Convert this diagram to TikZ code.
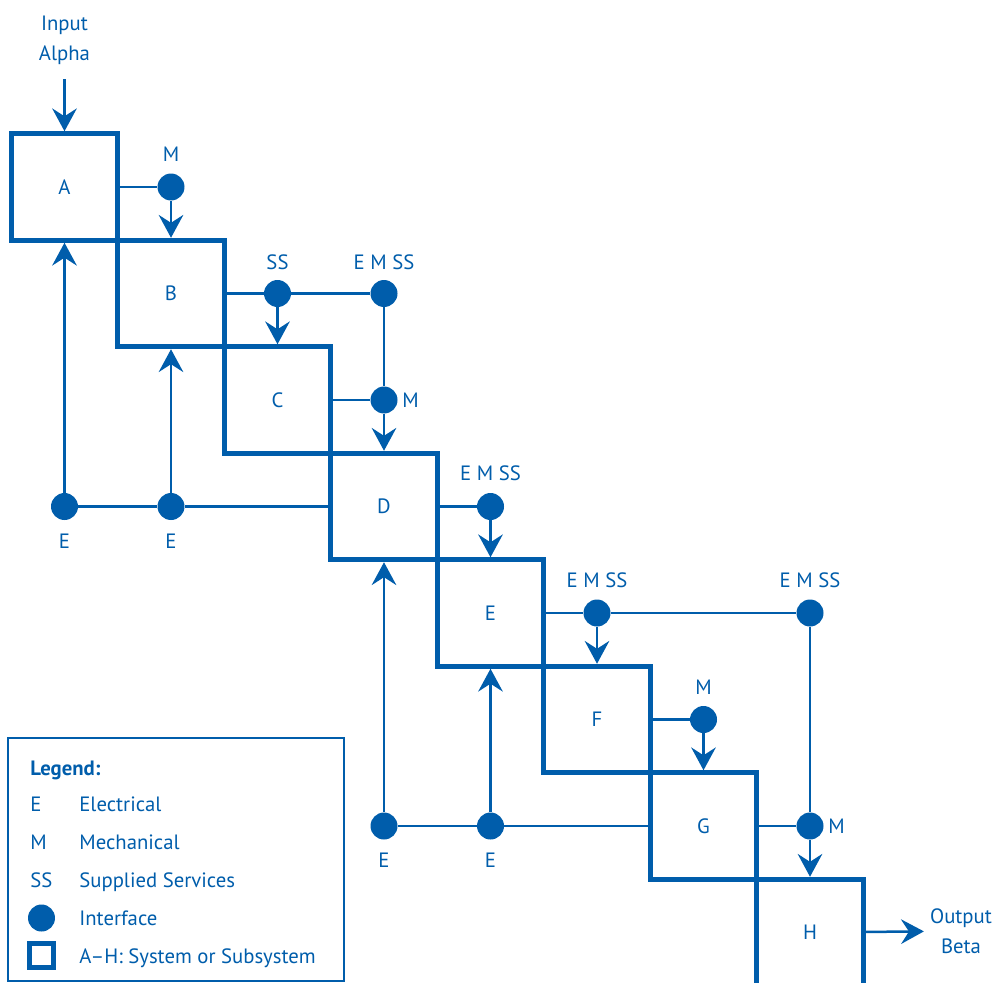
\documentclass[tikz,border=0pt]{standalone}
\usepackage{fontspec}
\setmainfont{PT Sans}
\usetikzlibrary{arrows.meta, positioning}
\definecolor{sysblue}{HTML}{005DAB}
\tikzset{
  sys/.style={draw=sysblue, line width=0.1cm, minimum size=2.13cm, inner sep=0pt},
  port/.style={circle, fill=sysblue, minimum size=0.54cm, inner sep=0pt},
  link/.style={draw=sysblue, line width=0.05cm},
  arr/.style={link, -{Stealth[length=13pt, width=14pt, inset=4.5pt]}},
  legtext/.style={anchor=base west, inner sep=0pt},
}

\begin{document}
\begin{tikzpicture}[x=0.02cm, y=-0.02cm, color=sysblue, font=\fontsize{11.8}{17}\selectfont]
  \useasboundingbox (0,0) rectangle (1000,983);
  \clip (0,0) rectangle (1000,983);
  % systems A to H down the diagonal
  \foreach \s [count=\k from 0] in {A,B,C,D,E,F,G,H}
    \node[sys] (\s) at ({64.5+106.5*\k},{187+106.5*\k}) {\s};
  % interfaces
  \node[port, label={[label distance=3pt]above:M}] (mA) at (B |- A) {};
  \node[port, label={[label distance=2pt]above:SS}] (ssB) at (C |- B) {};
  \node[port, label={[label distance=2pt]above:E M SS}] (emsB) at (D |- B) {};
  \node[port, label={[label distance=-1pt]right:M}] (mC) at (D |- C) {};
  \node[port, label={[label distance=3pt]above:E M SS}] (emsD) at (E |- D) {};
  \node[port, label={[label distance=3pt]above:E M SS}] (emsE) at (F |- E) {};
  \node[port, label={[label distance=3pt]above:E M SS}] (emsEH) at (H |- E) {};
  \node[port, label={[label distance=3pt]above:M}] (mF) at (G |- F) {};
  \node[port, label={[label distance=-1pt]right:M}] (mG) at (H |- G) {};
  \node[port, label={[label distance=4pt]below:E}] (eDA) at (A |- D) {};
  \node[port, label={[label distance=4pt]below:E}] (eDB) at (B |- D) {};
  \node[port, label={[label distance=4pt]below:E}] (eGD) at (D |- G) {};
  \node[port, label={[label distance=4pt]below:E}] (eGE) at (E |- G) {};
  % forward links
  \draw[link] (A) -- (mA);
  \draw[arr] (mA) -- (mA |- B.north);
  \draw[link] (B) -- (ssB) -- (emsB);
  \draw[arr] (ssB) -- (ssB |- C.north);
  \draw[link] (emsB) -- (mC);
  \draw[link] (C) -- (mC);
  \draw[arr] (mC) -- (mC |- D.north);
  \draw[link] (D) -- (emsD);
  \draw[arr] (emsD) -- (emsD |- E.north);
  \draw[link] (E) -- (emsE) -- (emsEH);
  \draw[arr] (emsE) -- (emsE |- F.north);
  \draw[link] (emsEH) -- (mG);
  \draw[link] (F) -- (mF);
  \draw[arr] (mF) -- (mF |- G.north);
  \draw[link] (G) -- (mG);
  \draw[arr] (mG) -- (mG |- H.north);
  % feedback links
  \draw[link] (D) -- (eDB) -- (eDA);
  \draw[arr] (eDA) -- (eDA |- A.south);
  \draw[arr] (eDB) -- (eDB |- B.south);
  \draw[link] (G) -- (eGE) -- (eGD);
  \draw[arr] (eGD) -- (eGD |- D.south);
  \draw[arr] (eGE) -- (eGE |- E.south);
  % input and output
  \node[align=center] (alpha) at (64.5,40) {Input\\Alpha};
  \draw[arr, shorten <=5pt] (alpha) -- (A);
  \node[align=center] (beta) at (961,931) {Output\\Beta};
  \draw[arr] (H) -- (beta);
  % legend
  \node[draw, line width=0.04cm, minimum width=6.72cm, minimum height=4.86cm, inner sep=0pt] (legend) at (176,859.5) {};
  \node[legtext, font=\fontsize{11.8}{17}\selectfont\bfseries] (lgTitle) at (30,775) {Legend:};
  \foreach \k/\t/\y in {E/Electrical/811, M/Mechanical/849, SS/Supplied Services/887} {
    \node[legtext] (key-\k) at (30,\y) {\k};
    \node[legtext] (txt-\k) at (79,\y) {\t};
  }
  \node[port] (lgPort) at (41.5,918) {};
  \node[legtext] (txt-port) at (79,925) {Interface};
  \node[sys, minimum size=0.48cm] (lgSys) at (41.5,955) {};
  \node[legtext] (txt-sys) at (79,963) {A--H: System or Subsystem};
\end{tikzpicture}
\end{document}
